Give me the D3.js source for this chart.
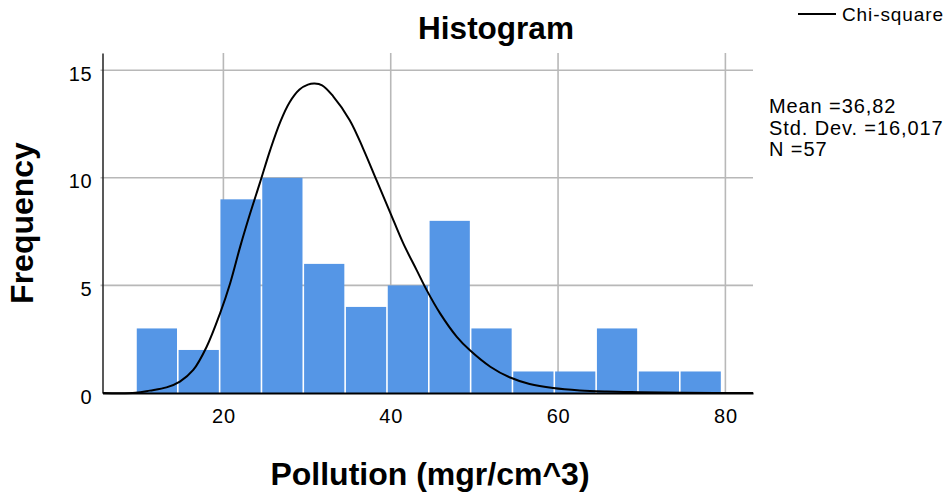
<!DOCTYPE html>
<html>
<head>
<meta charset="utf-8">
<script src="https://cdn.jsdelivr.net/npm/d3@7"></script>
<style>
  body { margin: 0; background: #fff; }
  text { font-family: "Liberation Sans", Arial, sans-serif; fill: #000; }
</style>
</head>
<body>
<script>
// histogram of pollution readings, chi-square curve on top
var width = 949;
var height = 498;

// lower edges of the bins (width 5)
var binStarts = [9.55, 14.55, 19.55, 24.55, 29.55, 34.55, 39.55, 44.55, 49.55, 54.55, 59.55, 64.55, 69.55, 74.55];
var binWidth = 5;
var counts = [3, 2, 9, 10, 6, 4, 5, 8, 3, 1, 1, 3, 1, 1];

// fitted curve
var curveX = [5.6, 9.5, 11.2, 13.2, 14.8, 16.4, 18.0, 19.6, 20.8, 22.0, 23.2, 24.4, 25.6, 26.8, 27.9, 29.1, 30.1, 30.9, 31.8, 33.1, 35.1, 36.7, 38.3, 39.9, 41.5, 43.1, 44.3, 45.9, 47.9, 49.5, 51.9, 54.2, 56.6, 59.4, 62.6, 65.8, 69.8, 75, 83.3];
var curveY = [0, 0.01, 0.11, 0.26, 0.53, 1.07, 2.15, 3.7, 5.09, 6.79, 8.35, 9.81, 11.3, 12.6, 13.5, 14.1, 14.33, 14.38, 14.3, 13.8, 12.68, 11.36, 9.89, 8.42, 6.95, 5.71, 4.78, 3.7, 2.61, 1.97, 1.22, 0.73, 0.42, 0.23, 0.12, 0.07, 0.04, 0.01, 0];

var xTicks = [20, 40, 60, 80];
var yTicks = [0, 5, 10, 15];
var stats = ['Mean =36,82', 'Std. Dev. =16,017', 'N =57'];

var svg = d3.select('body').append('svg')
  .attr('width', width)
  .attr('height', height);

var x = d3.scaleLinear().domain([5.55, 83.3]).range([102.5, 753]);
var y = d3.scaleLinear().domain([0, 15.8]).range([393, 53]);

var grid = svg.append('g').attr('stroke', '#b8b8b8').attr('stroke-width', 1.6);

grid.selectAll('line.h').data(yTicks.slice(1))
  .enter().append('line')
  .attr('x1', x.range()[0] - 2).attr('x2', x.range()[1])
  .attr('y1', function (d) { return y(d); })
  .attr('y2', function (d) { return y(d); });

grid.selectAll('line.v').data(xTicks)
  .enter().append('line')
  .attr('x1', function (d) { return x(d); })
  .attr('x2', function (d) { return x(d); })
  .attr('y1', y.range()[1]).attr('y2', y.range()[0]);

var bins = binStarts.map(function (s, i) {
  return { lo: s, hi: s + binWidth, n: counts[i] };
});

svg.append('g').selectAll('rect').data(bins)
  .enter().append('rect')
  .attr('x', function (d) { return x(d.lo) + 0.8; })
  .attr('width', function (d) { return x(d.hi) - x(d.lo) - 1.6; })
  .attr('y', function (d) { return y(d.n); })
  .attr('height', function (d) { return y(0) - y(d.n); })
  .attr('fill', '#5596e6');

// axes
var yAxis = d3.axisLeft(y).tickValues(yTicks).tickSize(0).tickPadding(10);
var gy = svg.append('g').attr('transform', 'translate(' + x.range()[0] + ',0)').call(yAxis);
gy.select('.domain').attr('stroke', '#222').attr('stroke-width', 1.5);
gy.selectAll('text').attr('font-size', 20).attr('dy', '0.5em')
  .style('letter-spacing', '0.8px')
  .style('font-family', '"Liberation Sans", Arial, sans-serif');

var xAxis = d3.axisBottom(x).tickValues(xTicks).tickSize(0).tickPadding(16);
var gx = svg.append('g').attr('transform', 'translate(0,' + y(0) + ')').call(xAxis);
gx.select('.domain').attr('stroke', '#000').attr('stroke-width', 2);
gx.selectAll('text').attr('font-size', 20)
  .style('letter-spacing', '0.8px')
  .style('font-family', '"Liberation Sans", Arial, sans-serif');

var line = d3.line()
  .x(function (d) { return x(d[0]); })
  .y(function (d) { return y(d[1]); })
  .curve(d3.curveCatmullRom.alpha(0.5));

svg.append('path')
  .datum(curveX.map(function (v, i) { return [v, curveY[i]]; }))
  .attr('d', line)
  .attr('fill', 'none')
  .attr('stroke', '#000')
  .attr('stroke-width', 2);

// titles
svg.append('text').attr('x', 496).attr('y', 39)
  .attr('text-anchor', 'middle').attr('font-size', 31.5).attr('font-weight', 'bold')
  .text('Histogram');

svg.append('text').attr('x', 430).attr('y', 485)
  .attr('text-anchor', 'middle').attr('font-size', 32).attr('font-weight', 'bold')
  .text('Pollution (mgr/cm^3)');

svg.append('text')
  .attr('transform', 'translate(33,223) rotate(-90)')
  .attr('text-anchor', 'middle').attr('font-size', 32).attr('font-weight', 'bold')
  .text('Frequency');

// legend
svg.append('line')
  .attr('x1', 798).attr('x2', 836).attr('y1', 14).attr('y2', 14)
  .attr('stroke', '#000').attr('stroke-width', 2);
svg.append('text').attr('x', 842).attr('y', 21).attr('font-size', 19)
  .style('letter-spacing', '0.9px').text('Chi-square');

svg.append('g').selectAll('text').data(stats)
  .enter().append('text')
  .attr('x', 769)
  .attr('y', function (d, i) { return 113 + i * 21.5; })
  .attr('font-size', 20)
  .style('letter-spacing', '0.9px')
  .text(function (d) { return d; });
</script>
</body>
</html>
